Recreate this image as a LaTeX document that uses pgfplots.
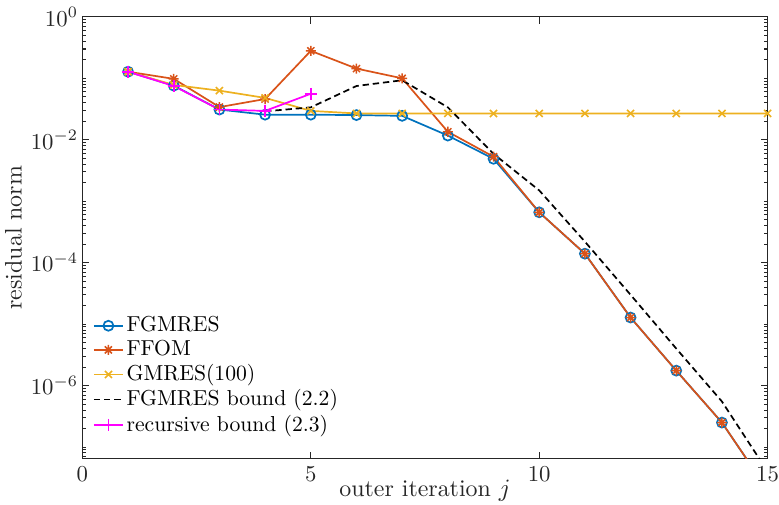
\documentclass[border=0pt]{standalone}
\usepackage{pgfplots}
\pgfplotsset{compat=1.18}
\definecolor{mblue}{rgb}{0,0.447,0.741}
\definecolor{morange}{rgb}{0.85,0.325,0.098}
\definecolor{myellow}{rgb}{0.929,0.694,0.125}
\definecolor{mmagenta}{rgb}{1,0,1}
\definecolor{axgray}{rgb}{0.15,0.15,0.15}
\pgfdeclareplotmark{mstar}{%
  \pgfpathmoveto{\pgfpoint{-\pgfplotmarksize}{0pt}}\pgfpathlineto{\pgfpoint{\pgfplotmarksize}{0pt}}%
  \pgfpathmoveto{\pgfpoint{0pt}{-\pgfplotmarksize}}\pgfpathlineto{\pgfpoint{0pt}{\pgfplotmarksize}}%
  \pgfpathmoveto{\pgfpoint{-0.707\pgfplotmarksize}{-0.707\pgfplotmarksize}}\pgfpathlineto{\pgfpoint{0.707\pgfplotmarksize}{0.707\pgfplotmarksize}}%
  \pgfpathmoveto{\pgfpoint{-0.707\pgfplotmarksize}{0.707\pgfplotmarksize}}\pgfpathlineto{\pgfpoint{0.707\pgfplotmarksize}{-0.707\pgfplotmarksize}}%
  \pgfusepathqstroke}
\begin{document}
\begin{tikzpicture}
\begin{axis}[
  width=301pt, height=194pt, scale only axis,
  xmin=0, xmax=15, ymin=6.5e-8, ymax=1,
  ymode=log,
  xtick={0,5,10,15},
  ytick={1e-6,1e-4,1e-2,1},
  minor ytick={2e-8,3e-8,4e-8,5e-8,6e-8,7e-8,8e-8,9e-8,1e-7,2e-7,3e-7,4e-7,5e-7,6e-7,7e-7,8e-7,9e-7,
    2e-6,3e-6,4e-6,5e-6,6e-6,7e-6,8e-6,9e-6,1e-5,2e-5,3e-5,4e-5,5e-5,6e-5,7e-5,8e-5,9e-5,
    2e-4,3e-4,4e-4,5e-4,6e-4,7e-4,8e-4,9e-4,1e-3,2e-3,3e-3,4e-3,5e-3,6e-3,7e-3,8e-3,9e-3,
    2e-2,3e-2,4e-2,5e-2,6e-2,7e-2,8e-2,9e-2,1e-1,2e-1,3e-1,4e-1,5e-1,6e-1,7e-1,8e-1,9e-1},
  tick align=inside,
  major tick length=3pt, minor tick length=1.7pt,
  axis line style={axgray, line width=0.45pt},
  every tick/.style={axgray, line width=0.45pt},
  tick label style={color=axgray, font=\fontsize{10}{12}\selectfont},
  yticklabel style={xshift=1.6pt},
  xticklabel style={inner sep=0pt, yshift=-3.4pt},
  label style={color=axgray, font=\fontsize{10.5}{13}\selectfont},
  xlabel={outer iteration $j$},
  ylabel={residual norm},
  xlabel style={at={(axis description cs:0.5,-0.086)}, anchor=base, inner sep=1.5pt},
  ylabel style={at={(axis description cs:-0.1006,0.5)}, anchor=center, inner sep=2.2pt},
  legend cell align=left,
  legend style={draw=none, fill=none, at={(0.0115,0.042)}, anchor=south west,
    font=\fontsize{9.5}{10}\selectfont, row sep=0pt, inner sep=1pt,
    nodes={inner sep=1.2pt}},
  legend image code/.code={\draw[mark repeat=2,mark phase=2,#1] plot coordinates {(0cm,0cm) (0.225cm,0cm) (0.45cm,0cm)};},
  every axis plot/.append style={line width=0.75pt},
]
\addplot[color=mblue, mark=o, mark size=2.2pt, mark options={solid, line width=0.75pt}] coordinates {
 (1,0.128) (2,0.076) (3,0.031) (4,0.0256) (5,0.0256) (6,0.0252) (7,0.0245) (8,0.0117) (9,0.0049)
 (10,6.6e-4) (11,1.4e-4) (12,1.28e-5) (13,1.75e-6) (14,2.5e-7) (15,2e-8)};
\addlegendentry{FGMRES}
\addplot[color=morange, mark=mstar, mark size=2.2pt, mark options={solid, line width=0.65pt}] coordinates {
 (1,0.128) (2,0.098) (3,0.034) (4,0.046) (5,0.28) (6,0.144) (7,0.1) (8,0.0135) (9,0.0053)
 (10,6.6e-4) (11,1.4e-4) (12,1.28e-5) (13,1.75e-6) (14,2.5e-7) (15,2e-8)};
\addlegendentry{FFOM}
\addplot[color=myellow, mark=x, mark size=2.2pt, mark options={solid, line width=0.7pt}] coordinates {
 (1,0.128) (2,0.078) (3,0.063) (4,0.048) (5,0.0295) (6,0.0268) (7,0.0268) (8,0.0268) (9,0.0268)
 (10,0.0268) (11,0.0268) (12,0.0268) (13,0.0268) (14,0.0268) (15,0.0268)};
\addlegendentry{GMRES(100)}
\addplot[color=black, dash pattern=on 2.8pt off 1.7pt, no marks] coordinates {
 (4,0.029) (5,0.0337) (6,0.075) (7,0.093) (8,0.0337) (9,0.0059) (10,1.5e-3)
 (11,2.2e-4) (12,3.0e-5) (13,4.0e-6) (14,5.5e-7) (15,4e-8)};
\addlegendentry{FGMRES bound (2.2)}
\addplot[color=mmagenta, mark=+, mark size=2.6pt, mark options={solid, line width=0.75pt}] coordinates {
 (1,0.128) (2,0.075) (3,0.031) (4,0.0295) (5,0.056)};
\addlegendentry{recursive bound (2.3)}
\end{axis}
\end{tikzpicture}
\end{document}
